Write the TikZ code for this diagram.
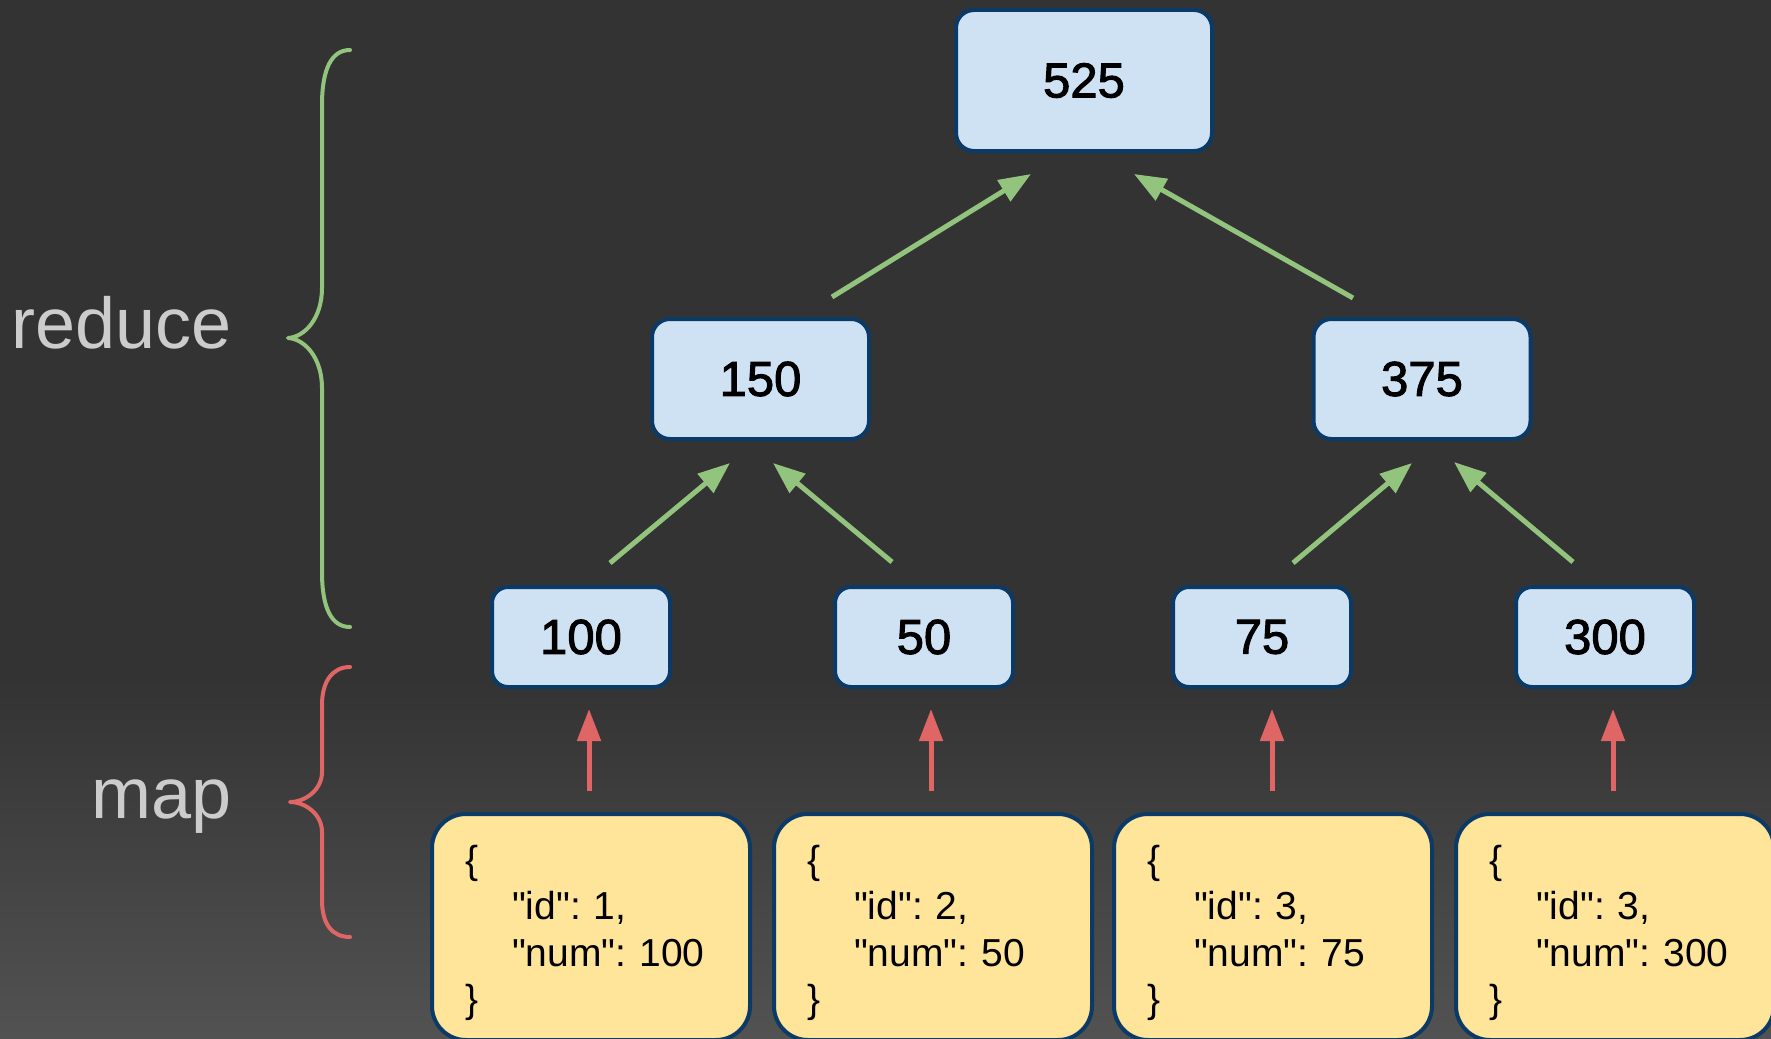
\documentclass[tikz,border=0pt]{standalone}
\usepackage{fontspec}
\setmainfont{Liberation Sans}
\newfontfamily\sumfont{Liberation Sans}[FakeBold=2]
\usetikzlibrary{arrows.meta}
\usetikzlibrary{calc}
\frenchspacing

\definecolor{bgdark}{HTML}{333333}
\definecolor{bglight}{HTML}{525252}
\definecolor{boxblue}{HTML}{CFE2F3}
\definecolor{boxyellow}{HTML}{FFE599}
\definecolor{boxborder}{HTML}{0B3A66}
\definecolor{reducegreen}{HTML}{93C47D}
\definecolor{mapred}{HTML}{E06666}
\definecolor{labelgrey}{HTML}{CCCCCC}

% straight quotes around a json key
\newcommand{\jkey}[1]{\textquotedbl#1\textquotedbl}

\begin{document}
\begin{tikzpicture}[x=0.5pt, y=-0.5pt,
        sum_node_style/.style={rectangle,draw=boxborder,fill=boxblue,line width=2pt,rounded corners=9pt,inner sep=0pt,font=\sumfont\fontsize{24.5}{29}\selectfont},
        root_node_style/.style={sum_node_style,minimum width=128pt,minimum height=70.5pt},
        mid_node_style/.style={sum_node_style,minimum width=108.5pt,minimum height=60pt},
        leaf_node_style/.style={sum_node_style,minimum width=89pt,minimum height=50pt,rounded corners=8pt},
        json_node_style/.style={rectangle,draw=boxborder,fill=boxyellow,line width=2pt,rounded corners=17pt,minimum width=159pt,minimum height=113pt,inner xsep=16.5pt,inner ysep=0pt,text width=126pt,align=left,font=\fontsize{19.5}{23.25}\selectfont},
        label_style/.style={text=labelgrey,inner sep=0pt,anchor=base east,font=\fontsize{36}{43}\selectfont},
        reduce_edge_style/.style={draw=reducegreen,line width=2.5pt,-{Triangle[length=16pt,width=12pt]}},
        map_edge_style/.style={draw=mapred,line width=2.5pt,-{Triangle[length=16pt,width=11.5pt]}},
        brace_style/.style={line width=2pt,line cap=round,line join=round}]

        \useasboundingbox (0,0) rectangle (1771,1038);
        \clip (0,0) rectangle (1771,1038);
        \fill [bgdark] (0,0) rectangle (1771,1038);
        \shade [top color=bgdark, bottom color=bglight] (0,680) rectangle (1771,1038);

        % phase labels and their braces
        \node [label_style](reduce_label) at (232,348) {reduce};
        \node [label_style](map_label) at (232,818) {map};
        \draw [brace_style, reducegreen] (350,50) .. controls (332,50) and (322,68) .. (322,105) -- (322,288)
            .. controls (322,318) and (305,337) .. (288,338) .. controls (305,339) and (322,358) .. (322,388)
            -- (322,572) .. controls (322,609) and (332,627) .. (350,627);
        \draw [brace_style, mapred] (350,667) .. controls (332,667) and (322,682) .. (322,705) -- (322,772)
            .. controls (322,790) and (305,802) .. (290,802) .. controls (305,802) and (322,814) .. (322,832)
            -- (322,900) .. controls (322,924) and (332,937) .. (350,937);

        % sums
        \node [root_node_style](s525) at (1084,80.5) {525};
        \node [mid_node_style](s150) at (760.5,379) {150};
        \node [mid_node_style](s375) at (1422,379) {375};
        \node [leaf_node_style](s100) at (581,637) {100};
        \node [leaf_node_style](s50) at (924,637) {50};
        \node [leaf_node_style](s75) at (1262,637) {75};
        \node [leaf_node_style](s300) at (1605,637) {300};

        % documents
        \node [json_node_style](j1) at (591,927) {\rule{0pt}{20pt}\{\\\hspace*{23.5pt}\jkey{id}: 1,\\\hspace*{23.5pt}\jkey{num}: 100\\\}};
        \node [json_node_style](j2) at (933,927) {\rule{0pt}{20pt}\{\\\hspace*{23.5pt}\jkey{id}: 2,\\\hspace*{23.5pt}\jkey{num}: 50\\\}};
        \node [json_node_style](j3) at (1273,927) {\rule{0pt}{20pt}\{\\\hspace*{23.5pt}\jkey{id}: 3,\\\hspace*{23.5pt}\jkey{num}: 75\\\}};
        \node [json_node_style](j4) at (1615,927) {\rule{0pt}{20pt}\{\\\hspace*{23.5pt}\jkey{id}: 3,\\\hspace*{23.5pt}\jkey{num}: 300\\\}};

        % map step
        \draw [map_edge_style] ($(j1.north)+(-2,-21)$) -- ($(j1.north |- s100.south)+(-2,20)$);
        \draw [map_edge_style] ($(j2.north)+(-2,-21)$) -- ($(j2.north |- s50.south)+(-2,20)$);
        \draw [map_edge_style] ($(j3.north)+(-1,-21)$) -- ($(j3.north |- s75.south)+(-1,20)$);
        \draw [map_edge_style] ($(j4.north)+(-2,-21)$) -- ($(j4.north |- s300.south)+(-2,20)$);

        % reduce steps
        \draw [reduce_edge_style] ($(s100.north)+(29,-22)$) -- ($(s150.south)+(-30.5,22)$);
        \draw [reduce_edge_style] ($(s50.north)+(-32,-23)$) -- ($(s150.south)+(12.5,22)$);
        \draw [reduce_edge_style] ($(s75.north)+(31,-22)$) -- ($(s375.south)+(-10,22)$);
        \draw [reduce_edge_style] ($(s300.north)+(-32,-23)$) -- ($(s375.south)+(32,21)$);
        \draw [reduce_edge_style] ($(s150.north)+(71.5,-20)$) -- ($(s525.south)+(-53,21)$);
        \draw [reduce_edge_style] ($(s375.north)+(-69,-19)$) -- ($(s525.south)+(50,21)$);
\end{tikzpicture}
\end{document}
